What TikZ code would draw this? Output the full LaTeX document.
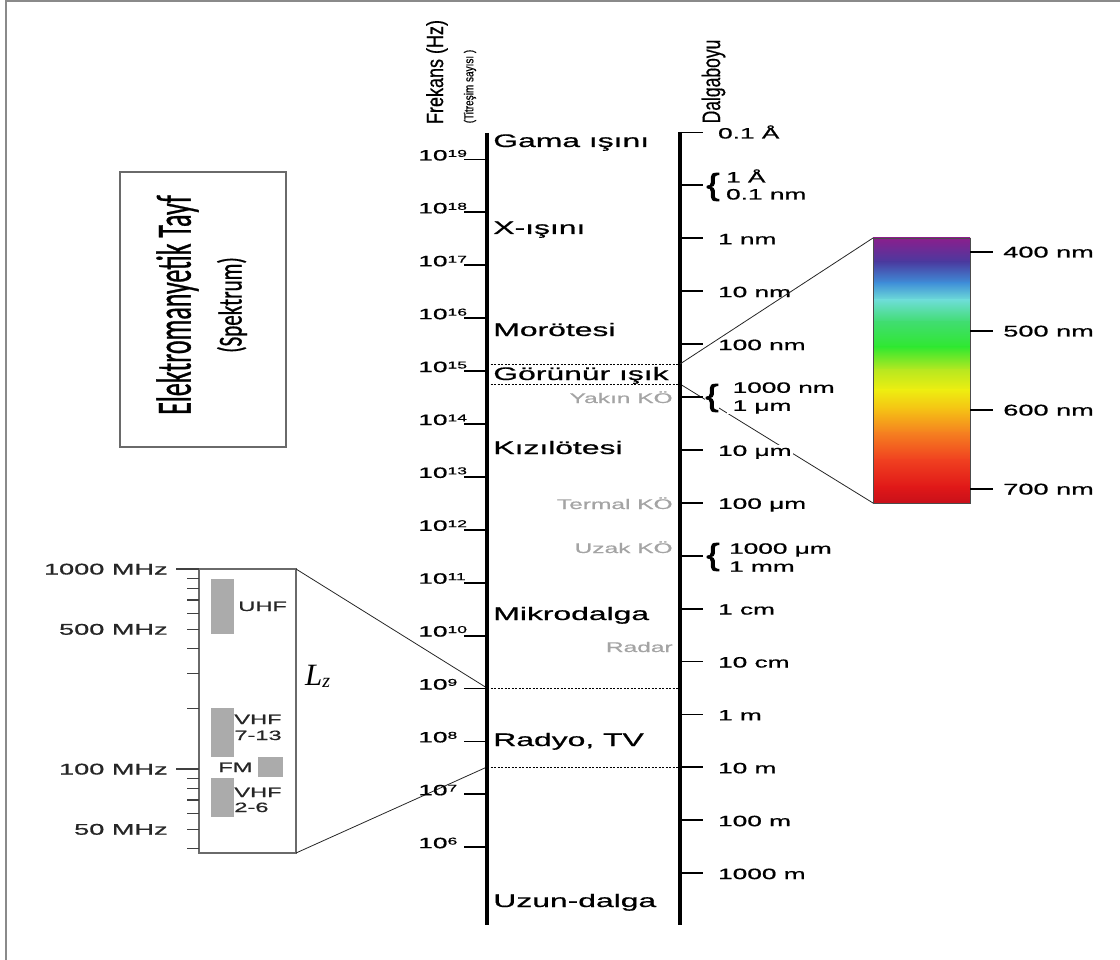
\documentclass[tikz,border=0pt]{standalone}
\usepackage{fontspec}
\setmainfont{Liberation Sans}[FakeBold=0.6]
\newfontfamily\titlefont{Carlito}[FakeBold=0.9]
\newfontfamily\romanfont{Liberation Serif}
\newfontfamily\bracefont{Liberation Sans}[FakeBold=2.2]

\definecolor{framegray}{HTML}{8A8A8A}
\definecolor{boxgray}{HTML}{6A6A6A}
\definecolor{subgray}{HTML}{A4A4A4}
\definecolor{bargray}{HTML}{ABABAB}
% visible spectrum colour stops, top (violet) to bottom (red)
\definecolor{sp0}{HTML}{8B1E8C}
\definecolor{sp1}{HTML}{4A3A9F}
\definecolor{sp2}{HTML}{3F8ED8}
\definecolor{sp3}{HTML}{6EDDD8}
\definecolor{sp4}{HTML}{40DD70}
\definecolor{sp5}{HTML}{30E830}
\definecolor{sp6}{HTML}{B8E820}
\definecolor{sp7}{HTML}{EEEE10}
\definecolor{sp8}{HTML}{F5C015}
\definecolor{sp9}{HTML}{F58020}
\definecolor{sp10}{HTML}{F04020}
\definecolor{sp11}{HTML}{E01818}
\definecolor{sp12}{HTML}{C8101A}

% power of ten with a raised exponent
\newcommand\powten[1]{10\raisebox{3.6pt}{\fontsize{10}{10}\selectfont #1}}

\begin{document}
\begin{tikzpicture}[x=1pt,y=-1pt,
  band/.style={font=\fontsize{18.2}{22}\selectfont, xscale=1.75, inner sep=0pt, anchor=base west},
  region/.style={font=\fontsize{14}{17}\selectfont, text=subgray, xscale=1.75, inner sep=0pt, anchor=base east},
  flabel/.style={font=\fontsize{15}{18}\selectfont, xscale=1.75, inner sep=0pt, anchor=base west},
  wlabel/.style={font=\fontsize{15}{18}\selectfont, xscale=1.75, inner xsep=1pt, inner ysep=0pt, anchor=base west, fill=white},
  wpair/.style={font=\fontsize{15}{18}\selectfont, xscale=1.75, inner ysep=0pt, align=left, anchor=west, fill=white},
  curly/.style={font=\bracefont\fontsize{30}{30}\selectfont, xscale=1.3, inner sep=0.5pt, fill=white},
  mlabel/.style={font=\fontsize{15.5}{18}\selectfont, xscale=1.75, inner sep=0pt, anchor=base east, text=black!85},
  blabel/.style={font=\fontsize{13.5}{16}\selectfont, xscale=1.75, inner sep=0pt, anchor=base west, text=black!85},
  slabel/.style={font=\fontsize{15.5}{18}\selectfont, xscale=1.75, inner sep=0pt, anchor=base west},
  axisline/.style={line width=3.2pt},
  tickline/.style={line width=1.8pt},
  mtick/.style={line width=1.2pt, black!75},
  conn/.style={line width=0.8pt, black!85},
  boundary/.style={line width=1pt, dash pattern=on 2pt off 1.5pt},
  bandbar/.style={fill=bargray, draw=none},
]
\useasboundingbox (0,0) rectangle (1120,960);

% page frame
\draw[framegray, line width=2.2pt] (6,960) -- (6,1) -- (1120,1);

% title box
\draw[boxgray, line width=1.4pt] (120,172) rectangle (286,447);
\node[font=\titlefont\fontsize{26}{26}\selectfont, xscale=1.9, rotate=90, inner sep=0pt] (title) at (177.5,305) {Elektromanyetik Tayf};
\node[font=\titlefont\fontsize{21}{21}\selectfont, xscale=1.6, rotate=90, inner sep=0pt] (subtitle) at (232,305) {(Spektrum)};

% column headings
\node[font=\fontsize{18}{18}\selectfont, xscale=1.3, rotate=90, inner sep=0pt] (fhead) at (437,72) {Frekans (Hz)};
\node[font=\fontsize{10}{10}\selectfont, xscale=1.3, rotate=90, inner sep=0pt] (fsub) at (470,86.5) {(Titreşim sayısı )};
\node[font=\fontsize{17.5}{18}\selectfont, xscale=1.45, rotate=90, inner sep=0pt] (whead) at (713.5,81.5) {Dalgaboyu};

% anchor points for the zoom connectors
\coordinate (visTop) at (680,364);
\coordinate (visBot) at (680,384);
\coordinate (visTopL) at (487,364);
\coordinate (visBotL) at (487,384);
\coordinate (specNW) at (873,238);
\coordinate (specSE) at (970,503);
\coordinate (specSW) at (873,503);
\coordinate (radNW) at (199,569);
\coordinate (radNE) at (296,569);
\coordinate (radSE) at (296,853);
\coordinate (fGHz) at (487,688);
\coordinate (fGHzR) at (680,688);
\coordinate (fTen) at (487,767);
\coordinate (fTenR) at (680,767);

% radio detail: bands
\fill[bandbar] (211,579) rectangle (234,634);
\fill[bandbar] (211,708) rectangle (234,757);
\fill[bandbar] (258,757) rectangle (283,777);
\fill[bandbar] (211,778) rectangle (234,817);
\draw[boxgray, line width=1.5pt] (radNW) rectangle (radSE);
% radio detail: logarithmic ticks
\foreach \f in {900,800,700,600,500,400,300,200,90,80,70,60,50,40} {
  \pgfmathsetmacro\yy{569+(3-log10(\f))*200}
  \draw[mtick] (187,\yy) -- (199,\yy);
}
\draw[mtick] (176,569) -- (199,569);
\draw[mtick] (176,769) -- (199,769);
\node[mlabel] (m1000) at (168,574.5) {1000 MHz};
\node[mlabel] (m500) at (168,634.7) {500 MHz};
\node[mlabel] (m100) at (168,774.5) {100 MHz};
\node[mlabel] (m50) at (168,834.7) {50 MHz};
\node[blabel] (uhf) at (238,611) {UHF};
\node[blabel] (vhfa) at (234,724) {VHF};
\node[blabel] (vhfb) at (234,740) {7-13};
\node[blabel] (fm) at (218,772) {FM};
\node[blabel] (vhfc) at (234,797) {VHF};
\node[blabel] (vhfd) at (234,812) {2-6};
\node[font=\romanfont\itshape\fontsize{31}{31}\selectfont, inner sep=0pt, anchor=base west] (lz) at (305,685) {L\raisebox{-2.5pt}{\fontsize{20}{20}\selectfont z}};

% connectors from the radio detail and the lower visible-light edge
\draw[conn] (radNE) -- (fGHz);
\draw[conn] (radSE) -- (fTen);
\draw[conn] (visBot) -- (specSW);

% band boundaries
\draw[boundary] (visTopL) -- (visTop);
\draw[boundary] (visBotL) -- (visBot);
\draw[boundary] (fGHz) -- (fGHzR);
\draw[boundary] (fTen) -- (fTenR);

% frequency axis
\draw[axisline] (487,133) -- (487,925);
\foreach \n in {6,...,19} {
  \pgfmathsetmacro\yy{159.5+(19-\n)*52.9}
  \draw[tickline] (464,\yy) -- (487,\yy);
  \node[flabel] (f\n) at (418,\yy+1) {\powten{\n}};
}

% wavelength axis
\draw[axisline] (680,132) -- (680,925);
\foreach \k in {0,...,14} {
  \pgfmathsetmacro\yy{132.5+\k*52.9}
  \draw[tickline] (680,\yy) -- (703,\yy);
}
\foreach \k/\t in {0/0.1 Å, 2/1 nm, 3/10 nm, 4/100 nm, 6/10 μm, 7/100 μm, 9/1 cm, 10/10 cm, 11/1 m, 12/10 m, 13/100 m, 14/1000 m} {
  \pgfmathsetmacro\yy{132.5+\k*52.9+6}
  \node[wlabel] (w\k) at (716,\yy) {\t};
}
% paired wavelength values
\node[curly] (br1) at (713,187) {\{};
\node[wpair, inner xsep=1pt] (w1) at (724,184.5) {1 Å\\[-1pt]0.1 nm};
\node[curly] (br5) at (712,398) {\{};
\node[wpair, inner xsep=3pt] (w5) at (727,398) {1000 nm\\1 μm};
\node[curly] (br8) at (713,557) {\{};
\node[wpair, inner xsep=1pt] (w8) at (727,557.5) {1000 μm\\1 mm};

% band names
\node[band] (gamma) at (493,147) {Gama ışını};
\node[band] (xray) at (493,234) {X-ışını};
\node[band] (uv) at (493,336) {Morötesi};
\node[band] (vis) at (493,380) {Görünür ışık};
\node[band] (ir) at (493,454) {Kızılötesi};
\node[band] (micro) at (493,620) {Mikrodalga};
\node[band] (radio) at (493,746) {Radyo, TV};
\node[band] (longw) at (493,907) {Uzun-dalga};

% sub-regions
\node[region] (nir) at (673,403) {Yakın KÖ};
\node[region] (tir) at (673,509) {Termal KÖ};
\node[region] (fir) at (673,553) {Uzak KÖ};
\node[region] (radar) at (673,652) {Radar};

% visible spectrum detail
\foreach \a/\b/\ya/\yb in {sp0/sp1/238/262, sp1/sp2/262/283, sp2/sp3/283/300, sp3/sp4/300/322,
    sp4/sp5/322/347, sp5/sp6/347/370, sp6/sp7/370/390, sp7/sp8/390/410, sp8/sp9/410/433,
    sp9/sp10/433/460, sp10/sp11/460/487, sp11/sp12/487/503} {
  \shade[top color=\a, bottom color=\b] (873,\ya-0.4) rectangle (970,\yb+0.4);
}
\draw[line width=0.6pt, black!70] (specNW) rectangle (specSE);
\foreach \y/\t in {252/400 nm, 331/500 nm, 410/600 nm, 489/700 nm} {
  \draw[tickline] (970,\y) -- (993,\y);
  \node[slabel] at (1003,\y+5.5) {\t};
}

% upper visible-light connector
\draw[conn] (visTop) -- (specNW);
\end{tikzpicture}
\end{document}
